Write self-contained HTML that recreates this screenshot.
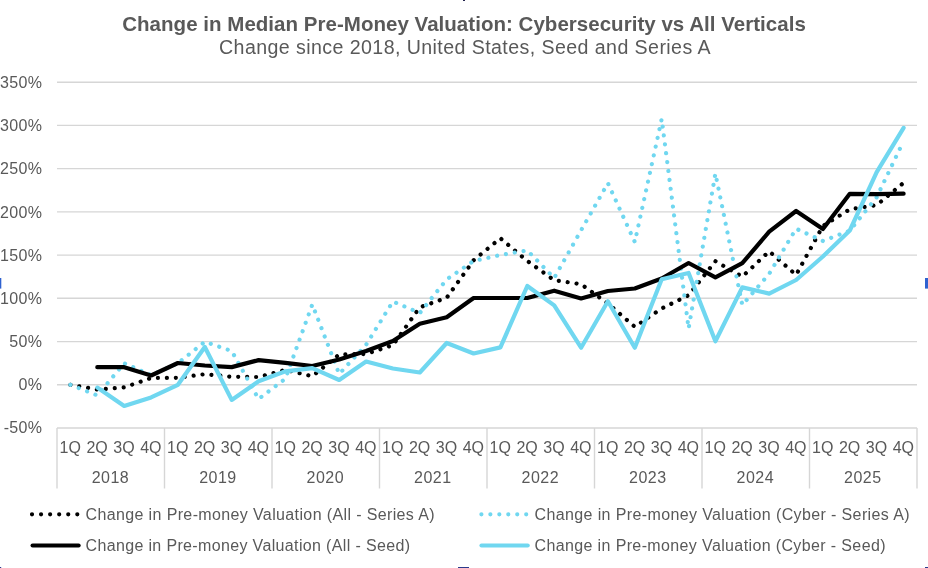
<!DOCTYPE html>
<html lang="en"><head><meta charset="utf-8"><title>Change in Median Pre-Money Valuation</title>
<style>html,body{margin:0;padding:0;background:#fff;overflow:hidden}svg{display:block}text{font-family:"Liberation Sans",Arial,Helvetica,sans-serif;fill:#595959}</style></head><body>
<svg width="928" height="568" viewBox="0 0 928 568">
<rect width="928" height="568" fill="#fff"/>
<g fill="#2F62D0"><rect x="0" y="278" width="1.3" height="10.6"/><rect x="925" y="278" width="3" height="10.6"/></g>
<g fill="#2B3A8C"><rect x="463" y="0" width="2" height="1" fill="#23234d"/><rect x="0" y="567" width="1.2" height="1"/><rect x="458" y="567" width="11" height="1"/><rect x="925" y="567" width="3" height="1"/></g>
<text x="122.2" y="30.5" font-size="20.5" font-weight="bold" textLength="683.6" lengthAdjust="spacing">Change in Median Pre-Money Valuation: Cybersecurity vs All Verticals</text>
<text x="219" y="54" font-size="19.6" textLength="491.5" lengthAdjust="spacing">Change since 2018, United States, Seed and Series A</text>
<g stroke="#D6D6D6" stroke-width="1.4" fill="none">
<line x1="57.0" y1="428.0" x2="917.0" y2="428.0"/>
<line x1="57.0" y1="384.8" x2="917.0" y2="384.8"/>
<line x1="57.0" y1="341.6" x2="917.0" y2="341.6"/>
<line x1="57.0" y1="298.3" x2="917.0" y2="298.3"/>
<line x1="57.0" y1="255.1" x2="917.0" y2="255.1"/>
<line x1="57.0" y1="211.9" x2="917.0" y2="211.9"/>
<line x1="57.0" y1="168.6" x2="917.0" y2="168.6"/>
<line x1="57.0" y1="125.4" x2="917.0" y2="125.4"/>
<line x1="57.0" y1="82.2" x2="917.0" y2="82.2"/>
<line x1="57.0" y1="428.0" x2="57.0" y2="488.5"/>
<line x1="164.5" y1="428.0" x2="164.5" y2="488.5"/>
<line x1="272.0" y1="428.0" x2="272.0" y2="488.5"/>
<line x1="379.5" y1="428.0" x2="379.5" y2="488.5"/>
<line x1="487.0" y1="428.0" x2="487.0" y2="488.5"/>
<line x1="594.5" y1="428.0" x2="594.5" y2="488.5"/>
<line x1="702.0" y1="428.0" x2="702.0" y2="488.5"/>
<line x1="809.5" y1="428.0" x2="809.5" y2="488.5"/>
<line x1="917.0" y1="428.0" x2="917.0" y2="488.5"/>
</g>
<g font-size="16" text-anchor="end" letter-spacing="0.35">
<text x="42.4" y="433.2">-50%</text>
<text x="42.4" y="389.6">0%</text>
<text x="42.4" y="347.2">50%</text>
<text x="42.4" y="303.9">100%</text>
<text x="42.4" y="260.7">150%</text>
<text x="42.4" y="217.5">200%</text>
<text x="42.4" y="174.2">250%</text>
<text x="42.4" y="131.0">300%</text>
<text x="42.4" y="87.8">350%</text>
</g>
<g font-size="16" text-anchor="middle">
<text x="70.2" y="452.8">1Q</text>
<text x="97.1" y="452.8">2Q</text>
<text x="124.0" y="452.8">3Q</text>
<text x="150.9" y="452.8">4Q</text>
<text x="177.7" y="452.8">1Q</text>
<text x="204.6" y="452.8">2Q</text>
<text x="231.5" y="452.8">3Q</text>
<text x="258.4" y="452.8">4Q</text>
<text x="285.2" y="452.8">1Q</text>
<text x="312.1" y="452.8">2Q</text>
<text x="339.0" y="452.8">3Q</text>
<text x="365.9" y="452.8">4Q</text>
<text x="392.7" y="452.8">1Q</text>
<text x="419.6" y="452.8">2Q</text>
<text x="446.5" y="452.8">3Q</text>
<text x="473.4" y="452.8">4Q</text>
<text x="500.2" y="452.8">1Q</text>
<text x="527.1" y="452.8">2Q</text>
<text x="554.0" y="452.8">3Q</text>
<text x="580.9" y="452.8">4Q</text>
<text x="607.7" y="452.8">1Q</text>
<text x="634.6" y="452.8">2Q</text>
<text x="661.5" y="452.8">3Q</text>
<text x="688.4" y="452.8">4Q</text>
<text x="715.2" y="452.8">1Q</text>
<text x="742.1" y="452.8">2Q</text>
<text x="769.0" y="452.8">3Q</text>
<text x="795.9" y="452.8">4Q</text>
<text x="822.7" y="452.8">1Q</text>
<text x="849.6" y="452.8">2Q</text>
<text x="876.5" y="452.8">3Q</text>
<text x="903.4" y="452.8">4Q</text>
<text x="110.2" y="483.1" textLength="37" lengthAdjust="spacing">2018</text>
<text x="217.7" y="483.1" textLength="37" lengthAdjust="spacing">2019</text>
<text x="325.1" y="483.1" textLength="37" lengthAdjust="spacing">2020</text>
<text x="432.6" y="483.1" textLength="37" lengthAdjust="spacing">2021</text>
<text x="540.1" y="483.1" textLength="37" lengthAdjust="spacing">2022</text>
<text x="647.6" y="483.1" textLength="37" lengthAdjust="spacing">2023</text>
<text x="755.1" y="483.1" textLength="37" lengthAdjust="spacing">2024</text>
<text x="862.6" y="483.1" textLength="37" lengthAdjust="spacing">2025</text>
</g>
<g fill="none" stroke-linecap="round" stroke-linejoin="round">
<path d="M70.4 384.8 L97.3 389.5 L124.2 387.4 L151.1 378.0 L177.9 377.8 L204.8 374.2 L231.7 376.8 L258.6 377.0 L285.4 369.9 L312.3 376.2 L339.2 354.5 L366.1 354.0 L392.9 345.1 L419.8 307.3 L446.7 297.8 L473.6 260.3 L500.4 238.2 L527.3 261.0 L554.2 280.2 L581.1 284.2 L607.9 303.5 L634.8 326.8 L661.7 308.5 L688.6 295.2 L715.4 261.2 L742.3 276.7 L769.2 251.3 L796.1 274.9 L822.9 226.0 L849.8 209.3 L876.7 205.1 L903.6 182.8" stroke="#000000" stroke-width="4.2" stroke-dasharray="0.01 8.95"/>
<path d="M70.4 384.8 L97.3 395.4 L124.2 363.3 L151.1 375.2 L177.9 363.2 L204.8 341.8 L231.7 351.0 L258.6 399.0 L285.4 378.7 L312.3 304.5 L339.2 374.0 L366.1 344.8 L392.9 301.5 L419.8 313.0 L446.7 279.4 L473.6 261.0 L500.4 255.0 L527.3 250.4 L554.2 278.0 L581.1 230.3 L607.9 183.2 L634.8 242.0 L661.7 119.0 L688.6 328.5 L715.4 173.5 L742.3 305.0 L769.2 273.8 L796.1 228.7 L822.9 241.0 L849.8 230.6 L876.7 197.2 L903.6 141.0" stroke="#70D7F0" stroke-width="4.2" stroke-dasharray="0.01 8.95"/>
<path d="M97.3 367.2 L124.2 367.2 L151.1 375.5 L177.9 363.0 L204.8 365.5 L231.7 367.1 L258.6 360.1 L285.4 362.9 L312.3 366.0 L339.2 359.5 L366.1 351.0 L392.9 341.0 L419.8 323.7 L446.7 317.3 L473.6 298.0 L500.4 298.0 L527.3 298.0 L554.2 290.7 L581.1 298.4 L607.9 291.0 L634.8 288.5 L661.7 278.5 L688.6 263.0 L715.4 277.3 L742.3 263.2 L769.2 231.7 L796.1 211.0 L822.9 229.0 L849.8 193.8 L876.7 194.2 L903.6 193.7" stroke="#000000" stroke-width="4.2"/>
<path d="M97.3 387.6 L124.2 406.0 L151.1 397.4 L177.9 384.8 L204.8 347.0 L231.7 399.9 L258.6 381.3 L285.4 371.3 L312.3 368.2 L339.2 380.0 L366.1 361.5 L392.9 368.5 L419.8 372.5 L446.7 343.0 L473.6 353.5 L500.4 347.4 L527.3 286.0 L554.2 305.4 L581.1 347.7 L607.9 301.2 L634.8 347.7 L661.7 279.3 L688.6 273.0 L715.4 341.3 L742.3 287.4 L769.2 293.6 L796.1 280.0 L822.9 256.5 L849.8 230.5 L876.7 172.1 L903.6 127.9" stroke="#70D7F0" stroke-width="4.2"/>
<path d="M32 514.3 H78" stroke="#000000" stroke-width="4.2" stroke-dasharray="0.01 9.05"/>
<path d="M32.6 545.5 H78.6" stroke="#000000" stroke-width="4.2"/>
<path d="M481.4 514.3 H527.4" stroke="#70D7F0" stroke-width="4.2" stroke-dasharray="0.01 8.95"/>
<path d="M481.5 545.5 H527.7" stroke="#70D7F0" stroke-width="4.2"/>
</g>
<g font-size="16">
<text x="85.5" y="520" textLength="349" lengthAdjust="spacing">Change in Pre-money Valuation (All - Series A)</text>
<text x="85.5" y="550.8" textLength="324.5" lengthAdjust="spacing">Change in Pre-money Valuation (All - Seed)</text>
<text x="534.5" y="520" textLength="375" lengthAdjust="spacing">Change in Pre-money Valuation (Cyber - Series A)</text>
<text x="534.5" y="550.8" textLength="351" lengthAdjust="spacing">Change in Pre-money Valuation (Cyber - Seed)</text>
</g>
</svg></body></html>
